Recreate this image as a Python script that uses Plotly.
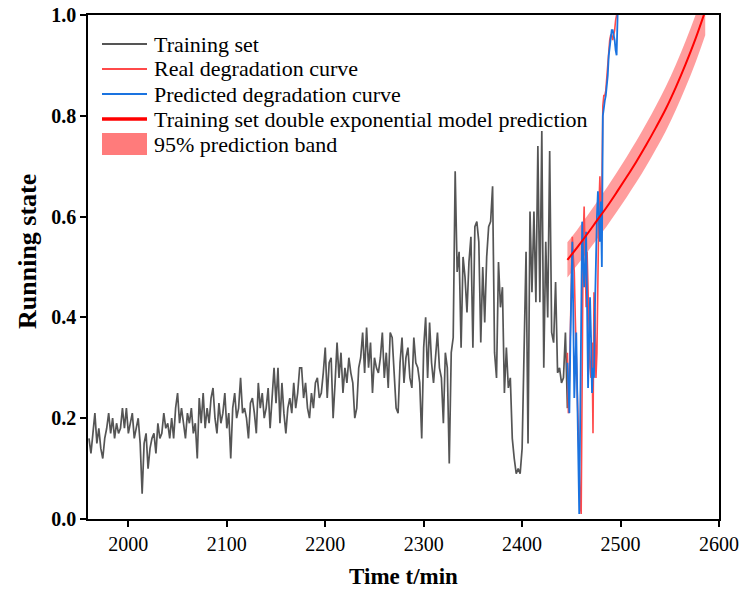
import plotly.graph_objects as go

# ---------------- data ----------------
train_start = 1960
train_step = 2
train_values = [
    0.16, 0.13, 0.17, 0.21, 0.15, 0.18, 0.14, 0.12, 0.16, 0.18,   # 1960-1978
    0.21, 0.17, 0.20, 0.16, 0.19, 0.17, 0.18, 0.22, 0.18, 0.22,   # 1980-1998
    0.17, 0.19, 0.21, 0.16, 0.18, 0.20, 0.15, 0.05, 0.15, 0.17,   # 2000-2018
    0.10, 0.14, 0.16, 0.17, 0.13, 0.19, 0.16, 0.17, 0.21, 0.18,   # 2020-2038
    0.19, 0.16, 0.20, 0.16, 0.22, 0.25, 0.19, 0.22, 0.19, 0.16,   # 2040-2058
    0.21, 0.19, 0.22, 0.17, 0.19, 0.12, 0.24, 0.19, 0.25, 0.18,   # 2060-2078
    0.22, 0.19, 0.24, 0.26, 0.20, 0.17, 0.23, 0.19, 0.21, 0.25,   # 2080-2098
    0.18, 0.21, 0.12, 0.22, 0.25, 0.20, 0.22, 0.28, 0.21, 0.22,   # 2100-2118
    0.20, 0.16, 0.23, 0.24, 0.21, 0.17, 0.27, 0.22, 0.25, 0.20,   # 2120-2138
    0.22, 0.26, 0.18, 0.24, 0.30, 0.23, 0.30, 0.19, 0.27, 0.21,   # 2140-2158
    0.17, 0.22, 0.24, 0.21, 0.27, 0.22, 0.25, 0.30, 0.30, 0.24,   # 2160-2178
    0.27, 0.22, 0.20, 0.25, 0.22, 0.27, 0.28, 0.24, 0.25, 0.29,   # 2180-2198
    0.34, 0.24, 0.31, 0.32, 0.20, 0.27, 0.35, 0.28, 0.33, 0.25,   # 2200-2218
    0.30, 0.27, 0.32, 0.29, 0.27, 0.20, 0.22, 0.30, 0.32, 0.37,   # 2220-2238
    0.29, 0.38, 0.30, 0.35, 0.25, 0.32, 0.30, 0.29, 0.32, 0.37,   # 2240-2258
    0.28, 0.33, 0.26, 0.37, 0.36, 0.29, 0.22, 0.21, 0.31, 0.36,   # 2260-2278
    0.27, 0.32, 0.34, 0.28, 0.26, 0.36, 0.31, 0.30, 0.27, 0.16,   # 2280-2298
    0.34, 0.40, 0.28, 0.39, 0.31, 0.27, 0.33, 0.37, 0.30, 0.28,   # 2300-2318
    0.19, 0.33, 0.30, 0.11, 0.33, 0.36, 0.69, 0.49, 0.53, 0.34,   # 2320-2338
    0.52, 0.48, 0.41, 0.51, 0.56, 0.34, 0.58, 0.59, 0.55, 0.35,   # 2340-2358
    0.50, 0.39, 0.52, 0.58, 0.59, 0.66, 0.33, 0.28, 0.51, 0.42,   # 2360-2378
    0.46, 0.25, 0.34, 0.26, 0.28, 0.16, 0.12, 0.09, 0.10, 0.09,   # 2380-2398
    0.14, 0.33, 0.53, 0.15, 0.61, 0.45, 0.61, 0.43, 0.74, 0.43,   # 2400-2418
    0.77, 0.30, 0.55, 0.40, 0.73, 0.37, 0.35, 0.47, 0.29, 0.30,   # 2420-2438
    0.27, 0.28, 0.37, 0.22,                                       # 2440-2446
]

real_start = 2446
real_values = [
    0.33, 0.21, 0.28, 0.40, 0.50, 0.56, 0.52, 0.49, 0.40, 0.33,   # 2446-2455
    0.25, 0.15, 0.07, 0.03, 0.01, 0.30, 0.55, 0.62, 0.50, 0.42,   # 2456-2465
    0.53, 0.45, 0.38, 0.30, 0.28, 0.35, 0.17, 0.45, 0.40, 0.28,   # 2466-2475
    0.33, 0.50, 0.62, 0.68, 0.60, 0.65, 0.82, 0.84, 0.84, 0.85,   # 2476-2485
    0.88, 0.90, 0.93, 0.95, 0.96, 0.96, 0.95, 0.96, 0.97, 0.99,   # 2486-2495
    1.00,                                                         # 2496
]

pred_start = 2446
pred_values = [
    0.31, 0.26, 0.21, 0.35, 0.50, 0.55, 0.40, 0.24, 0.30, 0.37,   # 2446-2455
    0.25, 0.10, 0.01, 0.20, 0.45, 0.59, 0.52, 0.46, 0.50, 0.57,   # 2456-2465
    0.42, 0.26, 0.35, 0.44, 0.36, 0.25, 0.30, 0.28, 0.42, 0.55,   # 2466-2475
    0.60, 0.65, 0.60, 0.55, 0.63, 0.50, 0.80, 0.82, 0.83, 0.84,   # 2476-2485
    0.86, 0.88, 0.92, 0.94, 0.95, 0.97, 0.97, 0.96, 0.95, 0.93,   # 2486-2495
    0.92, 1.00,                                                   # 2496-2497
]

model_t = [2446, 2456, 2466, 2476, 2486, 2496, 2506, 2516, 2526, 2536, 2546, 2556, 2566, 2576, 2586]
model_values = [0.514, 0.539, 0.565, 0.592, 0.619, 0.648, 0.678, 0.709, 0.742, 0.777, 0.814, 0.856, 0.902, 0.952, 1.008]
band_lower = [0.479, 0.504, 0.529, 0.555, 0.581, 0.609, 0.638, 0.668, 0.700, 0.734, 0.770, 0.811, 0.856, 0.905, 0.960]
band_upper = [0.549, 0.574, 0.601, 0.629, 0.657, 0.687, 0.718, 0.750, 0.784, 0.820, 0.858, 0.901, 0.948, 0.999, 1.056]

x_ticks = [2000, 2100, 2200, 2300, 2400, 2500, 2600]
y_ticks = [0.0, 0.2, 0.4, 0.6, 0.8, 1.0]

legend_labels = [
    "Training set",
    "Real degradation curve",
    "Predicted degradation curve",
    "Training set double exponential model prediction",
    "95% prediction band",
]

# ---------------- styles ----------------
GRAY = "#555555"
RED_THIN = "#ff4a4a"
BLUE = "#1a73e0"
RED = "#ff0000"
BAND = "rgba(255,60,60,0.5)"
SERIF = "Liberation Serif"

train_t = [train_start + train_step * i for i in range(len(train_values))]
real_t = [real_start + i for i in range(len(real_values))]
pred_t = [pred_start + i for i in range(len(pred_values))]

fig = go.Figure()

fig.add_trace(go.Scatter(x=model_t, y=band_lower, mode="lines",
                         line=dict(width=0, shape="spline", color=BAND),
                         showlegend=False, hoverinfo="skip"))
fig.add_trace(go.Scatter(x=model_t, y=band_upper, mode="lines", fill="tonexty",
                         fillcolor=BAND, line=dict(width=0, shape="spline", color=BAND),
                         name=legend_labels[4], showlegend=False))
fig.add_trace(go.Scatter(x=train_t, y=train_values, mode="lines",
                         line=dict(color=GRAY, width=1.7), name=legend_labels[0], showlegend=False))
fig.add_trace(go.Scatter(x=real_t, y=real_values, mode="lines",
                         line=dict(color=RED_THIN, width=1.6), name=legend_labels[1], showlegend=False))
fig.add_trace(go.Scatter(x=pred_t, y=pred_values, mode="lines",
                         line=dict(color=BLUE, width=1.8), name=legend_labels[2], showlegend=False))
fig.add_trace(go.Scatter(x=model_t, y=model_values, mode="lines",
                         line=dict(color=RED, width=2, shape="spline"), name=legend_labels[3], showlegend=False))

# ---------------- manual legend (paper coords) ----------------
W, H = 752, 595
ML, MR, MT, MB = 88, 33, 15, 76
PW, PH = W - ML - MR, H - MT - MB

def px_to_paper_x(px):
    return (px - ML) / PW

def py_to_paper_y(py):
    return (H - MB - py) / PH

row_y = [44, 69, 94, 119, 144]
sample_colors = [GRAY, RED_THIN, BLUE, RED]
sample_widths = [2, 2, 2, 3.5]
shapes = []
annotations = []
for i, lab in enumerate(legend_labels):
    yy = py_to_paper_y(row_y[i])
    if i < 4:
        shapes.append(dict(type="line", xref="paper", yref="paper",
                           x0=px_to_paper_x(102), x1=px_to_paper_x(147), y0=yy, y1=yy,
                           line=dict(color=sample_colors[i], width=sample_widths[i])))
    else:
        shapes.append(dict(type="rect", xref="paper", yref="paper",
                           x0=px_to_paper_x(102), x1=px_to_paper_x(147),
                           y0=py_to_paper_y(row_y[i] + 11), y1=py_to_paper_y(row_y[i] - 11),
                           fillcolor="rgba(255,90,90,0.8)", line=dict(width=0)))
    annotations.append(dict(text=lab, xref="paper", yref="paper",
                            x=px_to_paper_x(152), y=yy, xanchor="left", yanchor="middle",
                            showarrow=False, font=dict(family=SERIF, size=22, color="black")))

# y-axis title placed as rotated text
annotations.append(dict(text="<b>Running state</b>", xref="paper", yref="paper",
                        x=px_to_paper_x(27), y=py_to_paper_y(252), xanchor="center", yanchor="middle",
                        textangle=-90, showarrow=False,
                        font=dict(family=SERIF, size=26, color="black")))

fig.update_layout(
    width=W, height=H,
    margin=dict(l=ML, r=MR, t=MT, b=MB),
    paper_bgcolor="white", plot_bgcolor="white",
    shapes=shapes, annotations=annotations,
    showlegend=False,
)
fig.update_xaxes(
    range=[1959, 2600], tickvals=x_ticks, ticktext=[str(v) for v in x_ticks],
    showgrid=False, zeroline=False, automargin=False,
    showline=True, linecolor="black", linewidth=1.5, mirror=True,
    ticks="outside", ticklen=6, tickwidth=1.5, tickcolor="black",
    tickfont=dict(family=SERIF, size=20, color="black"),
    title=dict(text="<b>Time t/min</b>", font=dict(family=SERIF, size=23, color="black"), standoff=14),
)
fig.update_yaxes(
    range=[0, 1.0], tickvals=y_ticks, ticktext=["<b>%.1f</b>" % v for v in y_ticks],
    showgrid=False, zeroline=False, automargin=False,
    showline=True, linecolor="black", linewidth=1.5, mirror=True,
    ticks="outside", ticklen=6, tickwidth=1.5, tickcolor="black",
    tickfont=dict(family=SERIF, size=20, color="black"),
)

fig.write_html("out.html")
